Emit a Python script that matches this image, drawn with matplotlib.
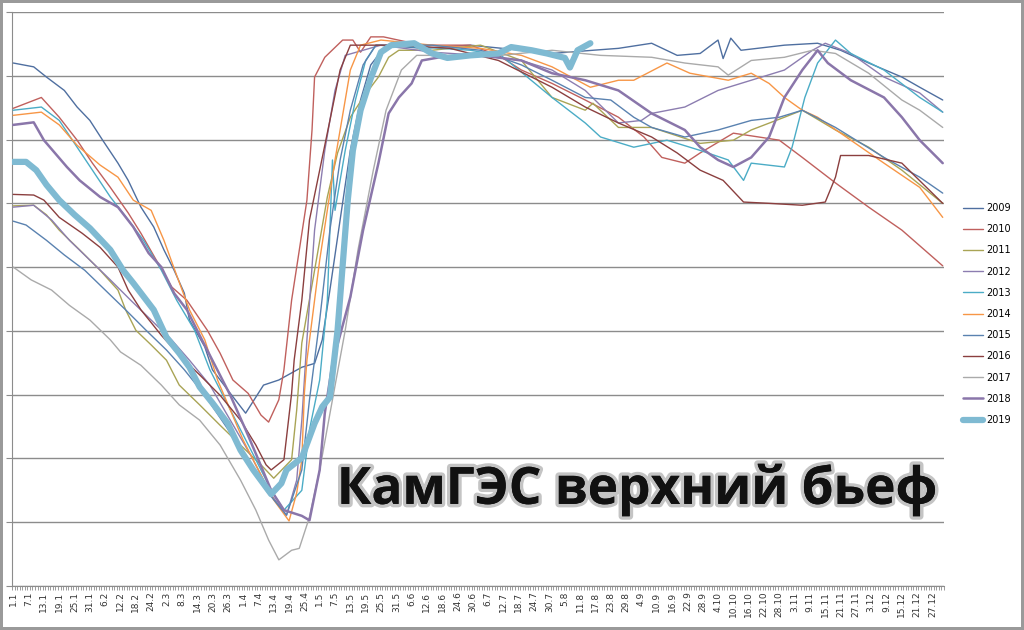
import numpy as np
import pandas as pd
import matplotlib
matplotlib.use('Agg')
import matplotlib.pyplot as plt
import matplotlib.patheffects as pe

# Уровень верхнего бьефа КамГЭС, м (день года, уровень)
d2009 = [0, 8, 13, 20, 25, 30, 35, 41, 45, 50, 55, 59, 63, 67, 69, 75, 78, 85, 91, 98, 104, 113, 118, 121, 124, 128,
         132, 136, 140, 146, 160, 179, 199, 211, 227, 237, 250, 260, 269, 276, 278, 281, 285, 302, 315, 324, 335, 348, 355, 364]
v2009 = [108.20, 108.14, 107.98, 107.77, 107.51, 107.30, 106.99, 106.63, 106.36, 105.94, 105.63, 105.27, 104.95, 104.59,
         104.17, 103.75, 103.39, 103.02, 102.71, 103.15, 103.23, 103.43, 103.49, 103.86, 104.64, 105.74, 106.83, 107.62,
         108.17, 108.48, 108.43, 108.48, 108.40, 108.35, 108.40, 108.43, 108.51, 108.32, 108.35, 108.56, 108.27, 108.59,
         108.40, 108.48, 108.51, 108.40, 108.20, 107.98, 107.82, 107.62]

d2010 = [0, 11, 18, 25, 31, 38, 45, 50, 56, 62, 68, 76, 81, 86, 92, 97, 100, 104, 106, 109, 111, 115, 117, 118, 122,
         129, 133, 136, 140, 145, 160, 179, 190, 199, 211, 224, 237, 247, 254, 263, 269, 282, 292, 300, 309, 322, 335, 348, 364]
v2010 = [107.49, 107.66, 107.35, 106.99, 106.63, 106.25, 105.85, 105.53, 105.11, 104.69, 104.48, 104.01, 103.65, 103.23,
         103.02, 102.68, 102.57, 102.92, 103.39, 104.48, 105.00, 106.05, 107.15, 107.98, 108.29, 108.56, 108.56, 108.37,
         108.61, 108.61, 108.48, 108.48, 108.32, 108.09, 107.88, 107.62, 107.35, 107.04, 106.72, 106.63, 106.79, 107.10,
         107.04, 106.99, 106.72, 106.32, 105.94, 105.58, 105.02]

d2011 = [0, 8, 13, 18, 26, 34, 41, 44, 48, 54, 60, 65, 73, 81, 89, 97, 102, 109, 111, 113, 118, 123, 127, 132, 137,
         143, 147, 151, 164, 183, 199, 211, 224, 227, 237, 250, 269, 282, 289, 302, 309, 322, 335, 348, 364]
v2011 = [105.96, 105.97, 105.82, 105.58, 105.27, 104.95, 104.64, 104.33, 104.01, 103.78, 103.54, 103.15, 102.84, 102.52,
         102.21, 101.90, 101.69, 101.98, 102.76, 103.81, 104.95, 106.10, 106.79, 107.35, 107.66, 107.98, 108.29, 108.40,
         108.40, 108.48, 108.24, 107.66, 107.46, 107.57, 107.19, 107.19, 106.94, 106.99, 107.15, 107.35, 107.46, 107.15,
         106.88, 106.52, 106.00]

d2012 = [0, 8, 15, 22, 30, 38, 46, 54, 62, 69, 77, 85, 93, 101, 107, 111, 113, 115, 118, 122, 126, 130, 144, 164, 183,
         199, 211, 224, 237, 246, 250, 263, 276, 289, 302, 313, 318, 328, 341, 355, 364]
v2012 = [105.94, 105.97, 105.74, 105.42, 105.11, 104.80, 104.48, 104.17, 103.86, 103.54, 103.15, 102.60, 102.05, 101.43,
         101.11, 101.66, 102.60, 103.86, 105.58, 106.83, 107.77, 108.32, 108.48, 108.37, 108.32, 108.24, 108.09, 107.77,
         107.26, 107.30, 107.41, 107.51, 107.77, 107.93, 108.09, 108.40, 108.51, 108.35, 107.98, 107.73, 107.43]

d2013 = [0, 11, 18, 25, 31, 38, 45, 51, 58, 64, 71, 77, 83, 89, 95, 101, 106, 113, 116, 120, 123, 124, 125, 126, 130,
         134, 138, 142, 160, 179, 191, 211, 224, 230, 243, 256, 269, 280, 286, 289, 302, 305, 310, 315, 322, 328, 341, 355, 364]
v2013 = [107.46, 107.51, 107.30, 106.88, 106.52, 106.10, 105.74, 105.42, 104.95, 104.48, 104.01, 103.39, 102.92, 102.45,
         101.98, 101.50, 101.19, 101.50, 102.45, 103.23, 104.48, 105.58, 106.68, 105.89, 106.83, 107.62, 108.24, 108.48,
         108.45, 108.40, 108.32, 107.66, 107.26, 107.04, 106.88, 106.99, 106.83, 106.68, 106.36, 106.63, 106.57, 106.88,
         107.66, 108.20, 108.56, 108.35, 108.09, 107.66, 107.43]

d2014 = [0, 11, 18, 25, 34, 41, 47, 54, 59, 64, 69, 75, 80, 85, 90, 96, 102, 108, 111, 113, 114, 115, 120, 126, 132,
         136, 144, 164, 183, 199, 211, 226, 237, 243, 256, 265, 280, 289, 296, 302, 309, 315, 328, 341, 355, 364]
v2014 = [107.38, 107.43, 107.23, 106.91, 106.60, 106.41, 106.05, 105.89, 105.42, 104.87, 104.33, 103.86, 103.23, 102.76,
         102.29, 101.82, 101.35, 101.02, 101.46, 101.98, 103.02, 103.54, 105.11, 106.68, 108.09, 108.48, 108.56, 108.48,
         108.43, 108.32, 108.14, 107.82, 107.93, 107.93, 108.20, 108.04, 107.93, 108.04, 107.88, 107.66, 107.46, 107.35,
         106.99, 106.63, 106.25, 105.78]

d2015 = [0, 5, 13, 20, 28, 36, 44, 52, 60, 67, 75, 83, 91, 99, 107, 113, 116, 120, 124, 128, 132, 137, 142, 164, 183,
         199, 211, 224, 234, 243, 250, 263, 276, 289, 300, 309, 322, 341, 355, 364]
v2015 = [105.72, 105.66, 105.42, 105.19, 104.95, 104.64, 104.33, 104.01, 103.70, 103.39, 102.99, 102.52, 102.05, 101.50,
         101.11, 101.82, 102.92, 104.17, 105.58, 106.68, 107.46, 108.17, 108.48, 108.48, 108.40, 108.17, 107.93, 107.66,
         107.62, 107.35, 107.19, 107.04, 107.15, 107.30, 107.35, 107.46, 107.19, 106.72, 106.41, 106.16]

d2016 = [0, 8, 12, 18, 27, 34, 41, 45, 50, 58, 65, 73, 81, 89, 95, 99, 101, 106, 109, 110, 113, 116, 120, 124, 128,
         132, 152, 171, 190, 199, 211, 224, 237, 250, 260, 269, 278, 286, 296, 309, 318, 322, 324, 335, 348, 364]
v2016 = [106.14, 106.13, 106.05, 105.78, 105.53, 105.31, 105.00, 104.64, 104.33, 103.93, 103.62, 103.31, 102.99, 102.60,
         102.21, 101.90, 101.82, 101.98, 103.02, 103.54, 104.48, 105.74, 106.52, 107.30, 108.09, 108.48, 108.48, 108.43,
         108.24, 108.06, 107.82, 107.51, 107.26, 107.04, 106.79, 106.52, 106.36, 106.02, 106.00, 105.97, 106.02, 106.41,
         106.75, 106.75, 106.63, 106.00]

d2017 = [0, 7, 15, 22, 30, 38, 42, 50, 58, 65, 73, 81, 89, 95, 100, 104, 109, 112, 116, 120, 125, 130, 135, 141, 146,
         152, 158, 171, 191, 211, 230, 250, 263, 276, 280, 289, 302, 313, 322, 335, 348, 355, 364]
v2017 = [105.00, 104.80, 104.64, 104.40, 104.17, 103.86, 103.67, 103.46, 103.15, 102.84, 102.60, 102.21, 101.66, 101.19,
         100.72, 100.41, 100.56, 100.59, 101.08, 101.82, 102.92, 104.01, 105.27, 106.52, 107.46, 108.09, 108.32, 108.32,
         108.32, 108.40, 108.32, 108.29, 108.20, 108.14, 108.01, 108.24, 108.29, 108.40, 108.35, 108.04, 107.62, 107.46, 107.19]

d2018 = [0, 8, 12, 21, 26, 34, 41, 47, 53, 58, 63, 68, 73, 79, 85, 91, 96, 101, 106, 113, 116, 120, 122, 125, 132,
         137, 143, 147, 151, 156, 160, 167, 183, 199, 211, 224, 237, 250, 263, 269, 276, 282, 289, 296, 302, 309, 315,
         319, 328, 341, 348, 355, 364]
v2018 = [107.23, 107.27, 106.99, 106.57, 106.36, 106.10, 105.94, 105.63, 105.22, 105.00, 104.59, 104.33, 103.93, 103.46,
         102.99, 102.45, 101.98, 101.50, 101.19, 101.10, 101.03, 101.82, 102.71, 103.49, 104.53, 105.58, 106.63, 107.41,
         107.66, 107.88, 108.24, 108.29, 108.32, 108.24, 108.04, 107.93, 107.77, 107.41, 107.15, 106.88, 106.68, 106.57,
         106.72, 107.04, 107.66, 108.09, 108.40, 108.20, 107.93, 107.66, 107.35, 106.99, 106.63]

d2019 = [0, 5, 9, 13, 18, 24, 30, 38, 43, 47, 55, 60, 65, 69, 73, 78, 84, 89, 94, 101, 105, 107, 113, 118, 121, 124,
         125, 127, 129, 131, 133, 136, 140, 144, 148, 157, 164, 170, 179, 190, 195, 203, 209, 216, 218, 221, 226]
v2019 = [106.65, 106.65, 106.52, 106.29, 106.05, 105.82, 105.61, 105.27, 104.95, 104.75, 104.33, 103.90, 103.65, 103.43,
         103.12, 102.87, 102.55, 102.13, 101.82, 101.44, 101.61, 101.82, 102.01, 102.55, 102.81, 102.96, 103.31, 104.01,
         105.03, 106.05, 106.83, 107.46, 107.96, 108.37, 108.48, 108.51, 108.35, 108.28, 108.32, 108.35, 108.45, 108.40,
         108.35, 108.28, 108.13, 108.40, 108.51]

years = ['2009', '2010', '2011', '2012', '2013', '2014', '2015', '2016', '2017', '2018', '2019']
days = [d2009, d2010, d2011, d2012, d2013, d2014, d2015, d2016, d2017, d2018, d2019]
levels = [v2009, v2010, v2011, v2012, v2013, v2014, v2015, v2016, v2017, v2018, v2019]
colors = ['#4F6FA0', '#C0605D', '#A9A455', '#8C7DB0', '#4BACC6', '#F79646',
          '#5A82B0', '#8B3F3F', '#AAAAAA', '#8A76AA', '#7FBAD2']
widths = [1, 1, 1, 1, 1, 1, 1, 1, 1, 1.8, 4.5]

dates = pd.date_range('2019-01-01', '2019-12-31')
tick_pos = np.arange(0, 365, 6)
tick_lab = [f'{dates[i].day}.{dates[i].month}' for i in tick_pos]

fig = plt.figure(figsize=(10.24, 6.30), dpi=100)
fig.patch.set_edgecolor('#9a9a9a')
fig.patch.set_linewidth(3)
ax = fig.add_axes([12 / 1024, 44 / 630, 932 / 1024, 574 / 630])

for y, d, v, c, w in zip(years, days, levels, colors, widths):
    ax.plot(d, v, color=c, lw=w, label=y, zorder=5 if y == '2019' else 3,
            solid_joinstyle='round', solid_capstyle='round')

ax.set_xlim(-0.5, 364.5)
ax.set_ylim(100, 109)
ax.set_yticks(np.arange(100, 110, 1))
ax.set_yticklabels([])
ax.yaxis.grid(True, color='#8c8c8c', lw=1)
ax.set_axisbelow(True)
ax.set_xticks(tick_pos)
ax.set_xticklabels(tick_lab, rotation=90, fontsize=6.5, color='#333333')
ax.set_xticks(np.arange(-0.5, 365, 1), minor=True)
ax.tick_params(axis='x', which='major', length=0, pad=4)
ax.tick_params(axis='x', which='minor', length=3, color='#8c8c8c', width=0.6)
ax.tick_params(axis='y', length=4, color='#8c8c8c')
for s in ['top', 'right']:
    ax.spines[s].set_visible(False)
ax.spines['left'].set_color('#8c8c8c')
ax.spines['bottom'].set_color('#8c8c8c')

ax.legend(loc='center left', bbox_to_anchor=(958 / 1024, (630 - 314) / 630),
          bbox_transform=fig.transFigure, frameon=False, fontsize=7,
          handlelength=2.1, handletextpad=0.3, labelspacing=1.15, borderpad=0)

fig.text(0.622, 0.222, 'КамГЭС верхний бьеф', fontsize=37, fontweight='bold',
         family='Open Sans', color='#111111', ha='center', va='center',
         path_effects=[pe.withStroke(linewidth=5, foreground='#c4c4c4'), pe.Normal()])

plt.savefig('out.png', dpi=100)
plt.close()
